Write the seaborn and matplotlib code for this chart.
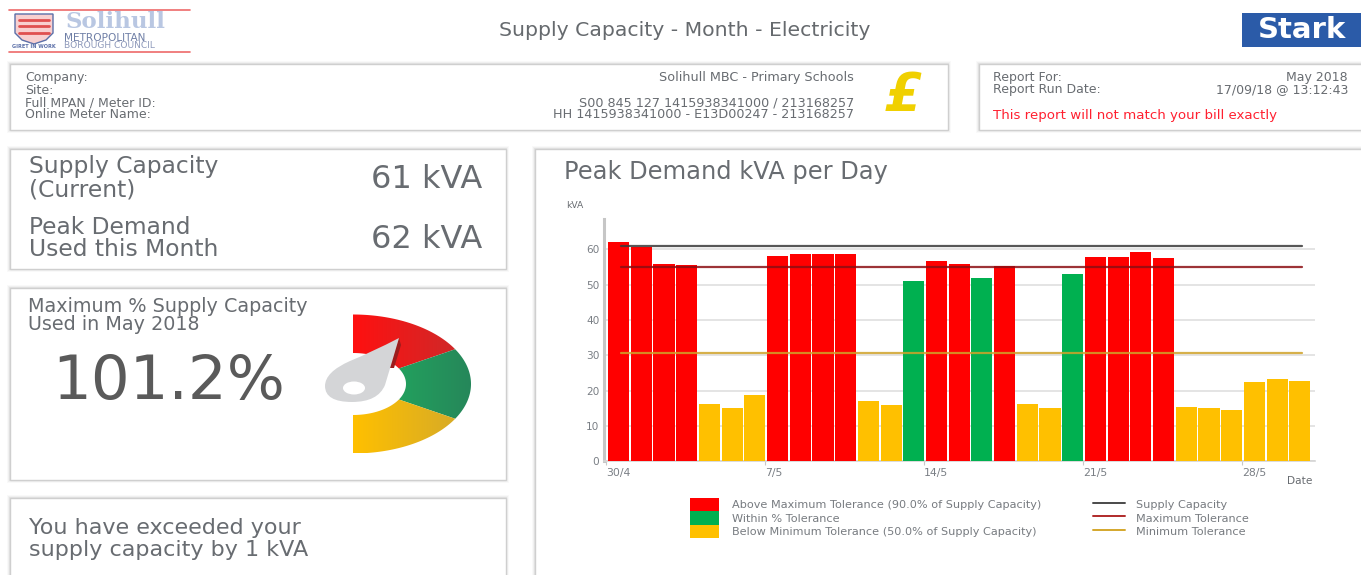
import numpy as np
import pandas as pd
import matplotlib
matplotlib.use("Agg")
import matplotlib.pyplot as plt
import seaborn as sns
from matplotlib.patches import Rectangle, Polygon, PathPatch, Ellipse
from matplotlib.path import Path
from matplotlib.lines import Line2D
from matplotlib.colors import LinearSegmentedColormap

# ---------- data ----------
kva = [62.0, 60.8, 56.0, 55.7, 16.2, 15.2, 18.9, 58.0, 58.8, 58.6, 58.6, 17.0, 16.0, 51.0,
       56.6, 56.0, 51.8, 55.2, 16.2, 15.0, 53.0, 57.9, 57.9, 59.2, 57.5, 15.5, 15.0, 14.5,
       22.4, 23.2, 22.8]
bands = ["Above", "Above", "Above", "Above", "Below", "Below", "Below", "Above", "Above", "Above",
         "Above", "Below", "Below", "Within", "Above", "Above", "Within", "Above", "Below", "Below",
         "Within", "Above", "Above", "Above", "Above", "Below", "Below", "Below", "Below", "Below", "Below"]
supply_capacity = 61.0
max_tolerance = 55.0
min_tolerance = 30.8
yticks = [0, 10, 20, 30, 40, 50, 60]
tick_days = [0, 7, 14, 21, 28]
tick_labels = ["30/4", "7/5", "14/5", "21/5", "28/5"]
band_colors = {"Above": "#ff0000", "Within": "#00b050", "Below": "#ffc000"}
legend_bars = ["Above Maximum Tolerance (90.0% of Supply Capacity)", "Within % Tolerance",
               "Below Minimum Tolerance (50.0% of Supply Capacity)"]
legend_lines = ["Supply Capacity", "Maximum Tolerance", "Minimum Tolerance"]
line_colors = ["#3a3a3a", "#8c0f14", "#cfa22a"]

W, H = 1361, 575
sns.set_theme(style="white")
plt.rcParams["font.family"] = ["DejaVu Sans"]
fig = plt.figure(figsize=(W / 100, H / 100), dpi=100, facecolor="white")

# ---------- page layer in pixel coordinates ----------
bg = fig.add_axes([0, 0, 1, 1], zorder=0)
bg.set_xlim(0, W)
bg.set_ylim(H, 0)
bg.axis("off")

TXT = "#686c71"


def card(x0, y0, x1, y1):
    for k, a in [(3, .03), (2, .05), (1, .08)]:
        bg.add_patch(Rectangle((x0 - k, y0 - k), x1 - x0 + 2 * k, y1 - y0 + 2 * k,
                               fc="#555555", ec="none", alpha=a, zorder=1))
    bg.add_patch(Rectangle((x0, y0), x1 - x0, y1 - y0, fc="white", ec="#cfcfcf", lw=1, zorder=2))


card(10, 64, 948, 130)
card(979, 64, 1375, 130)
card(10, 149, 506, 269)
card(10, 288, 506, 480)
card(10, 498, 506, 600)
card(535, 149, 1375, 600)


def t(x, y, s, size, color=TXT, ha="left", va="center", **kw):
    return bg.text(x, y, s, fontsize=size, color=color, ha=ha, va=va, zorder=5, **kw)


# header
t(685, 30, "Supply Capacity - Month - Electricity", 14.7, ha="center", color="#666a6e")
bg.add_patch(Rectangle((1242, 13), 119, 34, fc="#2b5ba8", ec="none", zorder=3))
t(1302, 29.5, "Stark", 21, color="white", ha="center", fontweight="bold")

# logo
for yy in (9.5, 51.5):
    bg.plot([9, 190], [yy, yy], color="#ee6a6a", lw=1.2, zorder=3)
bg.add_patch(Polygon([(15, 14), (53, 14), (53, 33), (46, 40), (34, 44), (22, 40), (15, 33)],
                     closed=True, fc="#f8d0d0", ec="#5b6fa8", lw=1, zorder=3))
for yy in (20, 26, 33):
    bg.plot([19, 49], [yy, yy], color="#e05050", lw=2, zorder=4)
t(34, 47, "GIRET IN WORK", 3.6, color="#5b6fa8", ha="center", fontweight="bold")
t(66, 22.5, "Solihull", 16.5, color="#b9c7e2", family="DejaVu Serif", fontweight="bold")
t(64, 38, "METROPOLITAN", 7.6, color="#6f7fa6")
t(64, 46, "BOROUGH COUNCIL", 6.6, color="#8f9abb")

# info card
for yy, s in zip([78, 90, 102.5, 115], ["Company:", "Site:", "Full MPAN / Meter ID:", "Online Meter Name:"]):
    t(25, yy, s, 9.0)
for yy, s in zip([78, 102.5, 115], ["Solihull MBC - Primary Schools", "S00 845 127 1415938341000 / 213168257",
                                    "HH 1415938341000 - E13D00247 - 213168257"]):
    t(854, yy, s, 9.2, ha="right")
t(903, 96, "£", 38, color="#f0d000", ha="center", fontweight="bold", style="italic")

# report card
t(993, 78, "Report For:", 9.0)
t(993, 90, "Report Run Date:", 9.0)
t(1348, 78, "May 2018", 9.0, ha="right")
t(1348, 90, "17/09/18 @ 13:12:43", 9.0, ha="right")
t(993, 115, "This report will not match your bill exactly", 9.6, color="#ff2030")

# KPI card
t(29, 167, "Supply Capacity", 16.8)
t(29, 190, "(Current)", 16.8)
t(29, 227, "Peak Demand", 16.8)
t(29, 250, "Used this Month", 16.8)
t(482, 179, "61 kVA", 23, ha="right")
t(482, 239, "62 kVA", 23, ha="right")

# gauge card
t(28, 307, "Maximum % Supply Capacity", 13.8)
t(28, 325, "Used in May 2018", 13.8)
t(52, 383, "101.2%", 44, color="#5a5a5a")

CX, CY, RXO, RYO, RXI, RYI = 353, 384, 118, 69.5, 53, 31


def sector(t0, t1, c0, c1):
    th = np.radians(np.linspace(t0, t1, 60))
    pts = np.r_[np.c_[CX + RXO * np.cos(th), CY - RYO * np.sin(th)],
                np.c_[CX + RXI * np.cos(th[::-1]), CY - RYI * np.sin(th[::-1])]]
    poly = Polygon(pts, closed=True, fc="none", ec="none", transform=bg.transData)
    bg.add_patch(poly)
    cm = LinearSegmentedColormap.from_list("g", [c0, c1])
    im = bg.imshow(np.linspace(0, 1, 256)[None, :], cmap=cm, aspect="auto",
                   extent=(CX, CX + RXO, CY + RYO, CY - RYO), zorder=3)
    im.set_clip_path(poly)


sector(90, 30, "#ff1010", "#c92c2c")
sector(30, -30, "#20b060", "#26875a")
sector(-30, -90, "#ffc000", "#d2a82c")
bg.set_xlim(0, W)
bg.set_ylim(H, 0)

needle = Path([(399, 338), (372, 352), (350, 361), (325, 372), (325, 386), (325, 402), (352, 402),
               (378, 402), (385, 385), (392, 362), (399, 338), (399, 338)],
              [Path.MOVETO, Path.CURVE3, Path.CURVE3, Path.CURVE3, Path.CURVE3, Path.CURVE3, Path.CURVE3,
               Path.CURVE3, Path.CURVE3, Path.CURVE3, Path.CURVE3, Path.CLOSEPOLY])
bg.add_patch(Polygon([(399, 338), (401, 345), (394, 368), (389, 368)], closed=True, fc="#9c1c1c", ec="none", zorder=4))
bg.add_patch(PathPatch(needle, fc="#d4d5d7", ec="none", zorder=5))
bg.add_patch(Ellipse((354, 388), 22, 13, fc="white", ec="none", zorder=6))

# message card
t(29, 528, "You have exceeded your", 16)
t(29, 550, "supply capacity by 1 kVA", 16)

# chart card
t(564, 172, "Peak Demand kVA per Day", 17.4)
t(566, 205, "kVA", 6.6)
t(1287, 481, "Date", 7.6)

# ---------- chart ----------
L, R, B, T = 604.3, 1315.0, 461.3, 219.0
ax = fig.add_axes([L / W, 1 - B / H, (R - L) / W, (B - T) / H], zorder=3)
ax.patch.set_alpha(0)
df = pd.DataFrame({"day": [str(i) for i in range(len(kva))], "kva": kva, "band": bands})
sns.barplot(data=df, x="day", y="kva", hue="band", palette=band_colors, dodge=False, width=0.93,
            saturation=1, legend=False, ax=ax, zorder=3, edgecolor="none")
days = np.arange(len(kva))
for val, col in zip([supply_capacity, max_tolerance, min_tolerance], line_colors):
    sns.lineplot(x=days + 0.1, y=np.full(len(kva), val), color=col, lw=1.6, ax=ax, zorder=4,
                 errorbar=None, alpha=0.85)
ax.set_xlim(-0.63, 30.67)
ax.set_ylim(0, 68.6)
ax.set_xlabel("")
ax.set_ylabel("")
ax.set_yticks(yticks)
ax.set_yticklabels([str(v) for v in yticks], fontsize=7.6, color="#7a7f85")
ax.set_xticks(np.array(tick_days) - 0.55)
ax.set_xticklabels(tick_labels, fontsize=7.8, color="#7a7f85", ha="left")
ax.tick_params(axis="x", length=3, width=0.8, color="#c8c8c8", pad=1.5, bottom=True)
ax.tick_params(axis="y", length=0, pad=3.5)
ax.grid(axis="y", color="#dcdcdc", lw=1.1, zorder=0)
ax.set_axisbelow(True)
for s in ("top", "right"):
    ax.spines[s].set_visible(False)
ax.spines["left"].set_color("#c6c6c6")
ax.spines["left"].set_linewidth(2.2)
ax.spines["bottom"].set_color("#d4d4d4")
ax.spines["bottom"].set_linewidth(1.2)

# ---------- legends ----------
FS = 8.1
px = FS * 100 / 72
bar_handles = [Rectangle((0, 0), 1, 1, fc=band_colors[k], ec="none") for k in ("Above", "Within", "Below")]
line_handles = [Line2D([0], [0], color=c, lw=1.4) for c in ["#4a4a4a", "#b02a2a", "#d4a72c"]]
fig.legend(bar_handles, legend_bars, loc="upper left", bbox_to_anchor=(690 / W, 1 - 497.5 / H), fontsize=FS,
           frameon=False, borderpad=0, borderaxespad=0, labelspacing=0, handlelength=28.5 / px,
           handleheight=1.48, handletextpad=13.5 / px, labelcolor="#777b80")
fig.legend(line_handles, legend_lines, loc="upper left", bbox_to_anchor=(1093 / W, 1 - 497.5 / H), fontsize=FS,
           frameon=False, borderpad=0, borderaxespad=0, labelspacing=0, handlelength=32 / px,
           handleheight=1.48, handletextpad=11 / px, labelcolor="#777b80")

fig.savefig("out.png", dpi=100, facecolor="white")
